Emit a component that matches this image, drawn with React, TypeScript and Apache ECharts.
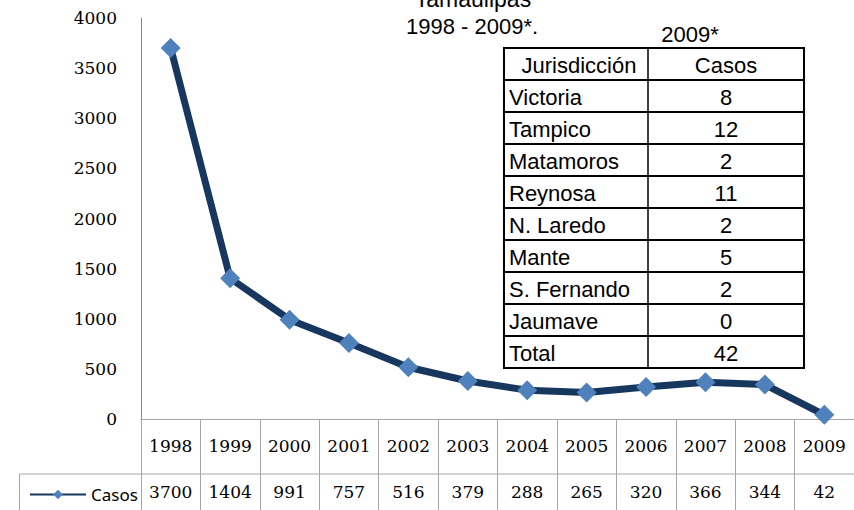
import React, { useEffect, useRef } from "react";
import * as echarts from "echarts";

const years = ["1998", "1999", "2000", "2001", "2002", "2003", "2004", "2005", "2006", "2007", "2008", "2009"];
const casos = [3700, 1404, 991, 757, 516, 379, 288, 265, 320, 366, 344, 42];
const seriesName = "Casos";

const jurisdicciones = ["Victoria", "Tampico", "Matamoros", "Reynosa", "N. Laredo", "Mante", "S. Fernando", "Jaumave", "Total"];
const casosJur = [8, 12, 2, 11, 2, 5, 2, 0, 42];
const tableHeader = ["Jurisdicción", "Casos"];

const titleLines = ["Tamaulipas", "1998 - 2009*."];
const insetTitle = "2009*";

const W = 854;
const H = 510;
const GRID_LEFT = 141;
const GRID_TOP = 18;
const AXIS_Y = 419;
const GRID_RIGHT_EDGE = 858;
const ROW_SPLIT = 474;

const TBL_X = 504;
const TBL_MID = 648;
const TBL_R = 804;
const TBL_TOP = 48;
const ROW_H = 32;

const SANS = "'Liberation Sans', Arial, sans-serif";
const SERIF = "'DejaVu Serif', serif";

export default function App() {
  const ref = useRef<HTMLDivElement>(null);
  useEffect(() => {
    if (!ref.current) return;
    const chart = echarts.init(ref.current, null, { renderer: "svg" });

    const graphics: any[] = [];
    graphics.push({ type: "text", x: 473, y: -1, style: { text: titleLines[0], font: `23px ${SANS}`, fill: "#000", align: "center", verticalAlign: "middle" } });
    graphics.push({ type: "text", x: 472, y: 26, style: { text: titleLines[1], font: `22px ${SANS}`, fill: "#000", align: "center", verticalAlign: "middle" } });
    graphics.push({ type: "text", x: 690, y: 34, style: { text: insetTitle, font: `22px ${SANS}`, fill: "#000", align: "center", verticalAlign: "middle" } });

    const nRows = jurisdicciones.length + 1;
    const tblH = nRows * ROW_H;
    graphics.push({ type: "rect", shape: { x: TBL_X, y: TBL_TOP, width: TBL_R - TBL_X, height: tblH }, style: { fill: "#fff", stroke: "#000", lineWidth: 2 } });
    for (let i = 1; i < nRows; i++) {
      const y = TBL_TOP + i * ROW_H;
      graphics.push({ type: "line", shape: { x1: TBL_X, y1: y, x2: TBL_R, y2: y }, style: { stroke: "#000", lineWidth: 2 } });
    }
    graphics.push({ type: "line", shape: { x1: TBL_MID, y1: TBL_TOP, x2: TBL_MID, y2: TBL_TOP + tblH }, style: { stroke: "#000", lineWidth: 1.5 } });
    const c1 = (TBL_X + TBL_MID) / 2;
    const c2 = (TBL_MID + TBL_R) / 2;
    graphics.push({ type: "text", x: c1 + 3, y: TBL_TOP + ROW_H / 2 + 1, style: { text: tableHeader[0], font: `22px ${SANS}`, fill: "#000", align: "center", verticalAlign: "middle" } });
    graphics.push({ type: "text", x: c2, y: TBL_TOP + ROW_H / 2 + 1, style: { text: tableHeader[1], font: `22px ${SANS}`, fill: "#000", align: "center", verticalAlign: "middle" } });
    jurisdicciones.forEach((name, i) => {
      const cy = TBL_TOP + (i + 1) * ROW_H + ROW_H / 2 + 1;
      graphics.push({ type: "text", x: TBL_X + 5, y: cy, style: { text: name, font: `22px ${SANS}`, fill: "#000", align: "left", verticalAlign: "middle" } });
      graphics.push({ type: "text", x: c2, y: cy, style: { text: String(casosJur[i]), font: `22px ${SANS}`, fill: "#000", align: "center", verticalAlign: "middle" } });
    });

    graphics.push({ type: "line", shape: { x1: 19, y1: ROW_SPLIT, x2: GRID_RIGHT_EDGE, y2: ROW_SPLIT }, style: { stroke: "#a6a6a6", lineWidth: 1 } });
    graphics.push({ type: "line", shape: { x1: 19.5, y1: ROW_SPLIT, x2: 19.5, y2: H }, style: { stroke: "#a6a6a6", lineWidth: 1 } });

    const labelStyle = { fontFamily: SERIF, fontSize: 17, color: "#000" };

    chart.setOption({
      animation: false,
      grid: { left: GRID_LEFT, top: GRID_TOP, right: W - GRID_RIGHT_EDGE, bottom: H - AXIS_Y, containLabel: false },
      legend: {
        data: [seriesName],
        left: 24,
        top: 481,
        itemWidth: 56,
        itemHeight: 12,
        itemGap: 4,
        lineStyle: { width: 2 },
        textStyle: { fontFamily: "'Noto Sans', sans-serif", fontSize: 17, color: "#000" },
      },
      xAxis: [
        {
          type: "category",
          data: years,
          boundaryGap: true,
          axisLine: { show: true, lineStyle: { color: "#a6a6a6", width: 1 } },
          axisTick: { show: true, length: H - AXIS_Y, lineStyle: { color: "#a6a6a6", width: 1 } },
          axisLabel: { margin: 27, verticalAlign: "middle", ...labelStyle },
        },
        {
          type: "category",
          position: "bottom",
          data: casos.map(String),
          boundaryGap: true,
          axisLine: { show: false },
          axisTick: { show: false },
          axisLabel: { margin: 73, verticalAlign: "middle", ...labelStyle },
        },
      ],
      yAxis: {
        type: "value",
        min: 0,
        max: 4000,
        interval: 500,
        axisLine: { show: true, lineStyle: { color: "#868686", width: 1 } },
        axisTick: { show: false },
        splitLine: { show: false },
        axisLabel: { margin: 24, ...labelStyle, formatter: (v: number) => String(v) },
      },
      series: [
        {
          name: seriesName,
          type: "line",
          xAxisIndex: 0,
          data: casos,
          symbol: "diamond",
          symbolSize: 20,
          lineStyle: { color: "#17375e", width: 7 },
          itemStyle: { color: "#4f81bd" },
          z: 3,
        },
      ],
      graphic: graphics,
    });
    return () => chart.dispose();
  }, []);
  return <div ref={ref} style={{ width: W, height: H, position: "absolute", left: 0, top: 0 }} />;
}
